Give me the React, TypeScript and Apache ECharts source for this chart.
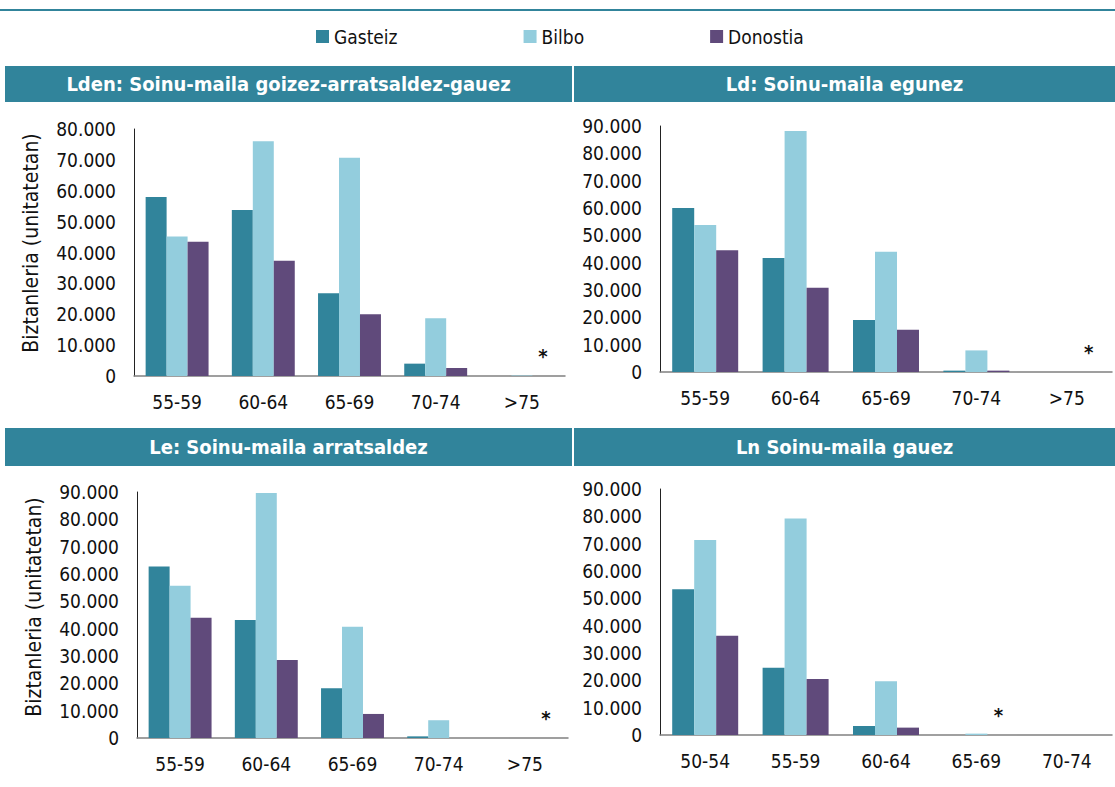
import React, { useEffect, useRef } from "react";
import * as echarts from "echarts";

const seriesNames = ["Gasteiz", "Bilbo", "Donostia"];
const seriesColors = ["#31849B", "#93CDDD", "#604A7B"];

const panelTitles = [
  "Lden: Soinu-maila goizez-arratsaldez-gauez",
  "Ld: Soinu-maila egunez",
  "Le: Soinu-maila arratsaldez",
  "Ln Soinu-maila gauez",
];

const ageCategories = ["55-59", "60-64", "65-69", "70-74", ">75"];
const nightCategories = ["50-54", "55-59", "60-64", "65-69", "70-74"];

const ldenGasteiz = [58000, 53800, 26800, 4000, 0];
const ldenBilbo = [45200, 76000, 70700, 18700, 150];
const ldenDonostia = [43500, 37300, 20000, 2600, 0];

const ldGasteiz = [60000, 41700, 19000, 500, 0];
const ldBilbo = [53800, 88200, 44000, 7900, 0];
const ldDonostia = [44500, 30800, 15500, 500, 0];

const leGasteiz = [62700, 43200, 18200, 600, 0];
const leBilbo = [55700, 89600, 40700, 6500, 0];
const leDonostia = [44000, 28500, 8800, 0, 0];

const lnGasteiz = [53300, 24600, 3300, 0, 0];
const lnBilbo = [71300, 79200, 19700, 500, 0];
const lnDonostia = [36300, 20500, 2700, 0, 0];

// category index carrying the "*" note in each panel
const asteriskIndex = [4, 4, 4, 3];
const yMax = [80000, 90000, 90000, 90000];
const yTicks = ["0", "10.000", "20.000", "30.000", "40.000", "50.000", "60.000", "70.000", "80.000", "90.000"];
const yAxisName = "Biztanleria (unitatetan)";

const panelCategories = [ageCategories, ageCategories, ageCategories, nightCategories];
const panelData = [
  [ldenGasteiz, ldenBilbo, ldenDonostia],
  [ldGasteiz, ldBilbo, ldDonostia],
  [leGasteiz, leBilbo, leDonostia],
  [lnGasteiz, lnBilbo, lnDonostia],
];

const FONT = "DejaVu Sans Condensed";

const grids = [
  { left: 134, top: 129, width: 431, height: 247 },
  { left: 660, top: 126, width: 452, height: 246 },
  { left: 137, top: 492, width: 431, height: 246 },
  { left: 660, top: 489, width: 452, height: 246 },
];

const titleBars = [
  { x: 5, y: 66, w: 567, h: 36 },
  { x: 574, y: 66, w: 541, h: 36 },
  { x: 5, y: 428, w: 567, h: 38 },
  { x: 574, y: 428, w: 541, h: 38 },
];

const axisNamePos = [
  { x: 31, y: 243 },
  { x: 34, y: 607 },
];

export default function App() {
  const ref = useRef<HTMLDivElement>(null);

  useEffect(() => {
    if (!ref.current) return;
    const chart = echarts.init(ref.current, null, { renderer: "svg" });

    const xAxes = panelCategories.map((cats, i) => ({
      type: "category",
      gridIndex: i,
      data: cats,
      axisLine: { show: true, lineStyle: { color: "#808080", width: 1.5 } },
      axisTick: { show: false },
      axisLabel: { fontFamily: FONT, fontSize: 19, color: "#111", margin: 16 },
    }));

    const yAxes = yMax.map((m, i) => ({
      type: "value",
      gridIndex: i,
      min: 0,
      max: m,
      interval: 10000,
      axisLine: { show: true, lineStyle: { color: "#222", width: 1 } },
      axisTick: { show: false },
      splitLine: { show: false },
      axisLabel: {
        fontFamily: FONT,
        fontSize: 19,
        color: "#111",
        margin: 18,
        formatter: (v: number) => yTicks[Math.round(v / 10000)],
      },
    }));

    const series: any[] = [];
    panelData.forEach((group, p) => {
      group.forEach((vals, s) => {
        series.push({
          type: "bar",
          name: seriesNames[s],
          xAxisIndex: p,
          yAxisIndex: p,
          barGap: "0%",
          barCategoryGap: "27%",
          itemStyle: { color: seriesColors[s] },
          data: vals.map((v, k) =>
            s === 2 && k === asteriskIndex[p]
              ? {
                  value: v,
                  label: {
                    show: true,
                    position: "top",
                    distance: 10,
                    formatter: "*",
                    fontFamily: FONT,
                    fontSize: 20,
                    fontWeight: "bold",
                    color: "#111",
                  },
                }
              : v
          ),
        });
      });
    });

    const graphic: any[] = [
      {
        type: "rect",
        shape: { x: 0, y: 9, width: 1115, height: 2 },
        style: { fill: "#31849B" },
      },
    ];
    titleBars.forEach((b, i) => {
      graphic.push({
        type: "rect",
        shape: { x: b.x, y: b.y, width: b.w, height: b.h },
        style: { fill: "#31849B" },
      });
      graphic.push({
        type: "text",
        x: b.x + b.w / 2,
        y: b.y + b.h / 2,
        style: {
          text: panelTitles[i],
          fill: "#ffffff",
          font: `bold 20px "${FONT}"`,
          textAlign: "center",
          textVerticalAlign: "middle",
        },
      });
    });
    axisNamePos.forEach((p) => {
      graphic.push({
        type: "text",
        x: p.x,
        y: p.y,
        rotation: Math.PI / 2,
        style: {
          text: yAxisName,
          fill: "#111",
          font: `21px "${FONT}"`,
          textAlign: "center",
          textVerticalAlign: "middle",
        },
      });
    });

    chart.setOption({
      animation: false,
      legend: {
        data: seriesNames,
        left: 311,
        top: 22,
        icon: "rect",
        itemWidth: 13,
        itemHeight: 13,
        itemGap: 126,
        textStyle: { fontFamily: FONT, fontSize: 19, color: "#111" },
      },
      grid: grids,
      xAxis: xAxes,
      yAxis: yAxes,
      series,
      graphic,
    });

    return () => chart.dispose();
  }, []);

  return (
    <div
      ref={ref}
      style={{ position: "absolute", left: 0, top: 0, width: 1115, height: 787, background: "#fff" }}
    />
  );
}
